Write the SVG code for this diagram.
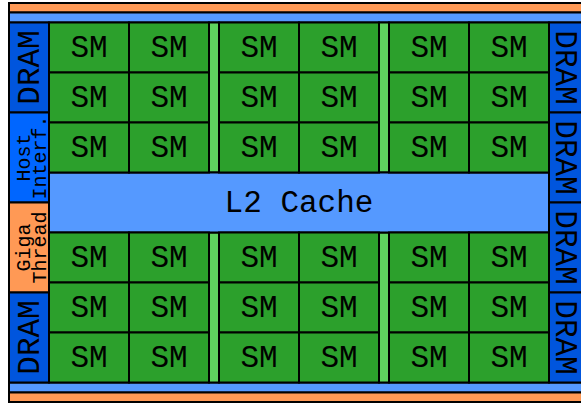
<svg xmlns="http://www.w3.org/2000/svg" width="581" height="403" viewBox="0 0 581 403">
  <style>
    rect { stroke: #000; stroke-width: 2; }
    .bus-o { fill: #ff9955; }
    .bus-b { fill: #5599ff; }
    .sm { fill: #2ca02c; }
    .gap { fill: #5fd35f; }
    .dram { fill: #0055dd; }
    .host { fill: #0066ff; }
    .giga { fill: #ff9955; }
    .l2 { fill: #5599ff; }
    text { font-family: "Liberation Mono", "Courier New", monospace; fill: #000; text-anchor: middle; }
    .big { font-size: 31px; }
    .small { font-size: 20px; }
  </style>

  <!-- top and bottom buses -->
  <g id="bus-top">
    <rect class="bus-o" x="9" y="3" width="580" height="9.5"/>
    <rect class="bus-b" x="9" y="12.5" width="580" height="10"/>
  </g>
  <g id="bus-bottom">
    <rect class="bus-b" x="9" y="382.5" width="580" height="10"/>
    <rect class="bus-o" x="9" y="392.5" width="580" height="9.5"/>
  </g>

  <!-- left column -->
  <g id="dram-l1">
    <rect class="dram" x="9" y="22.5" width="40" height="90"/>
    <text class="big" transform="translate(38.5 67.5) rotate(-90)">DRAM</text>
  </g>
  <g id="host-interface">
    <rect class="host" x="9" y="112.5" width="40" height="90"/>
    <text class="small" transform="translate(30 157.5) rotate(-90)">Host</text>
    <text class="small" transform="translate(46 157.5) rotate(-90)">Interf.</text>
  </g>
  <g id="giga-thread">
    <rect class="giga" x="9" y="202.5" width="40" height="90"/>
    <text class="small" transform="translate(29.5 247.5) rotate(-90)">Giga</text>
    <text class="small" transform="translate(45.5 247.5) rotate(-90)">Thread</text>
  </g>
  <g id="dram-l2">
    <rect class="dram" x="9" y="292.5" width="40" height="90"/>
    <text class="big" transform="translate(38.5 337.5) rotate(-90)">DRAM</text>
  </g>

  <!-- right column -->
  <g id="dram-r1">
    <rect class="dram" x="549" y="22.5" width="40" height="90"/>
    <text class="big" transform="translate(556 67.5) rotate(90)">DRAM</text>
  </g>
  <g id="dram-r2">
    <rect class="dram" x="549" y="112.5" width="40" height="90"/>
    <text class="big" transform="translate(556 157.5) rotate(90)">DRAM</text>
  </g>
  <g id="dram-r3">
    <rect class="dram" x="549" y="202.5" width="40" height="90"/>
    <text class="big" transform="translate(556 247.5) rotate(90)">DRAM</text>
  </g>
  <g id="dram-r4">
    <rect class="dram" x="549" y="292.5" width="40" height="90"/>
    <text class="big" transform="translate(556 337.5) rotate(90)">DRAM</text>
  </g>

  <!-- spacers between SM clusters -->
  <g id="gaps">
    <rect class="gap" x="209" y="22.5" width="10" height="150"/>
    <rect class="gap" x="379" y="22.5" width="10" height="150"/>
    <rect class="gap" x="209" y="232.5" width="10" height="150"/>
    <rect class="gap" x="379" y="232.5" width="10" height="150"/>
  </g>

  <!-- L2 cache -->
  <g id="l2-cache">
    <rect class="l2" x="49" y="172.5" width="500" height="60"/>
    <text class="big" x="299" y="212">L2 Cache</text>
  </g>

  <!-- streaming multiprocessors: 6 columns x 6 rows -->
  <g id="sm-r1c1"><rect class="sm" x="49" y="22.5" width="80" height="50"/><text class="big" x="89" y="56.5">SM</text></g>
  <g id="sm-r1c2"><rect class="sm" x="129" y="22.5" width="80" height="50"/><text class="big" x="169" y="56.5">SM</text></g>
  <g id="sm-r1c3"><rect class="sm" x="219" y="22.5" width="80" height="50"/><text class="big" x="259" y="56.5">SM</text></g>
  <g id="sm-r1c4"><rect class="sm" x="299" y="22.5" width="80" height="50"/><text class="big" x="339" y="56.5">SM</text></g>
  <g id="sm-r1c5"><rect class="sm" x="389" y="22.5" width="80" height="50"/><text class="big" x="429" y="56.5">SM</text></g>
  <g id="sm-r1c6"><rect class="sm" x="469" y="22.5" width="80" height="50"/><text class="big" x="509" y="56.5">SM</text></g>

  <g id="sm-r2c1"><rect class="sm" x="49" y="72.5" width="80" height="50"/><text class="big" x="89" y="106.5">SM</text></g>
  <g id="sm-r2c2"><rect class="sm" x="129" y="72.5" width="80" height="50"/><text class="big" x="169" y="106.5">SM</text></g>
  <g id="sm-r2c3"><rect class="sm" x="219" y="72.5" width="80" height="50"/><text class="big" x="259" y="106.5">SM</text></g>
  <g id="sm-r2c4"><rect class="sm" x="299" y="72.5" width="80" height="50"/><text class="big" x="339" y="106.5">SM</text></g>
  <g id="sm-r2c5"><rect class="sm" x="389" y="72.5" width="80" height="50"/><text class="big" x="429" y="106.5">SM</text></g>
  <g id="sm-r2c6"><rect class="sm" x="469" y="72.5" width="80" height="50"/><text class="big" x="509" y="106.5">SM</text></g>

  <g id="sm-r3c1"><rect class="sm" x="49" y="122.5" width="80" height="50"/><text class="big" x="89" y="156.5">SM</text></g>
  <g id="sm-r3c2"><rect class="sm" x="129" y="122.5" width="80" height="50"/><text class="big" x="169" y="156.5">SM</text></g>
  <g id="sm-r3c3"><rect class="sm" x="219" y="122.5" width="80" height="50"/><text class="big" x="259" y="156.5">SM</text></g>
  <g id="sm-r3c4"><rect class="sm" x="299" y="122.5" width="80" height="50"/><text class="big" x="339" y="156.5">SM</text></g>
  <g id="sm-r3c5"><rect class="sm" x="389" y="122.5" width="80" height="50"/><text class="big" x="429" y="156.5">SM</text></g>
  <g id="sm-r3c6"><rect class="sm" x="469" y="122.5" width="80" height="50"/><text class="big" x="509" y="156.5">SM</text></g>

  <g id="sm-r4c1"><rect class="sm" x="49" y="232.5" width="80" height="50"/><text class="big" x="89" y="266.5">SM</text></g>
  <g id="sm-r4c2"><rect class="sm" x="129" y="232.5" width="80" height="50"/><text class="big" x="169" y="266.5">SM</text></g>
  <g id="sm-r4c3"><rect class="sm" x="219" y="232.5" width="80" height="50"/><text class="big" x="259" y="266.5">SM</text></g>
  <g id="sm-r4c4"><rect class="sm" x="299" y="232.5" width="80" height="50"/><text class="big" x="339" y="266.5">SM</text></g>
  <g id="sm-r4c5"><rect class="sm" x="389" y="232.5" width="80" height="50"/><text class="big" x="429" y="266.5">SM</text></g>
  <g id="sm-r4c6"><rect class="sm" x="469" y="232.5" width="80" height="50"/><text class="big" x="509" y="266.5">SM</text></g>

  <g id="sm-r5c1"><rect class="sm" x="49" y="282.5" width="80" height="50"/><text class="big" x="89" y="316.5">SM</text></g>
  <g id="sm-r5c2"><rect class="sm" x="129" y="282.5" width="80" height="50"/><text class="big" x="169" y="316.5">SM</text></g>
  <g id="sm-r5c3"><rect class="sm" x="219" y="282.5" width="80" height="50"/><text class="big" x="259" y="316.5">SM</text></g>
  <g id="sm-r5c4"><rect class="sm" x="299" y="282.5" width="80" height="50"/><text class="big" x="339" y="316.5">SM</text></g>
  <g id="sm-r5c5"><rect class="sm" x="389" y="282.5" width="80" height="50"/><text class="big" x="429" y="316.5">SM</text></g>
  <g id="sm-r5c6"><rect class="sm" x="469" y="282.5" width="80" height="50"/><text class="big" x="509" y="316.5">SM</text></g>

  <g id="sm-r6c1"><rect class="sm" x="49" y="332.5" width="80" height="50"/><text class="big" x="89" y="366.5">SM</text></g>
  <g id="sm-r6c2"><rect class="sm" x="129" y="332.5" width="80" height="50"/><text class="big" x="169" y="366.5">SM</text></g>
  <g id="sm-r6c3"><rect class="sm" x="219" y="332.5" width="80" height="50"/><text class="big" x="259" y="366.5">SM</text></g>
  <g id="sm-r6c4"><rect class="sm" x="299" y="332.5" width="80" height="50"/><text class="big" x="339" y="366.5">SM</text></g>
  <g id="sm-r6c5"><rect class="sm" x="389" y="332.5" width="80" height="50"/><text class="big" x="429" y="366.5">SM</text></g>
  <g id="sm-r6c6"><rect class="sm" x="469" y="332.5" width="80" height="50"/><text class="big" x="509" y="366.5">SM</text></g>
</svg>
